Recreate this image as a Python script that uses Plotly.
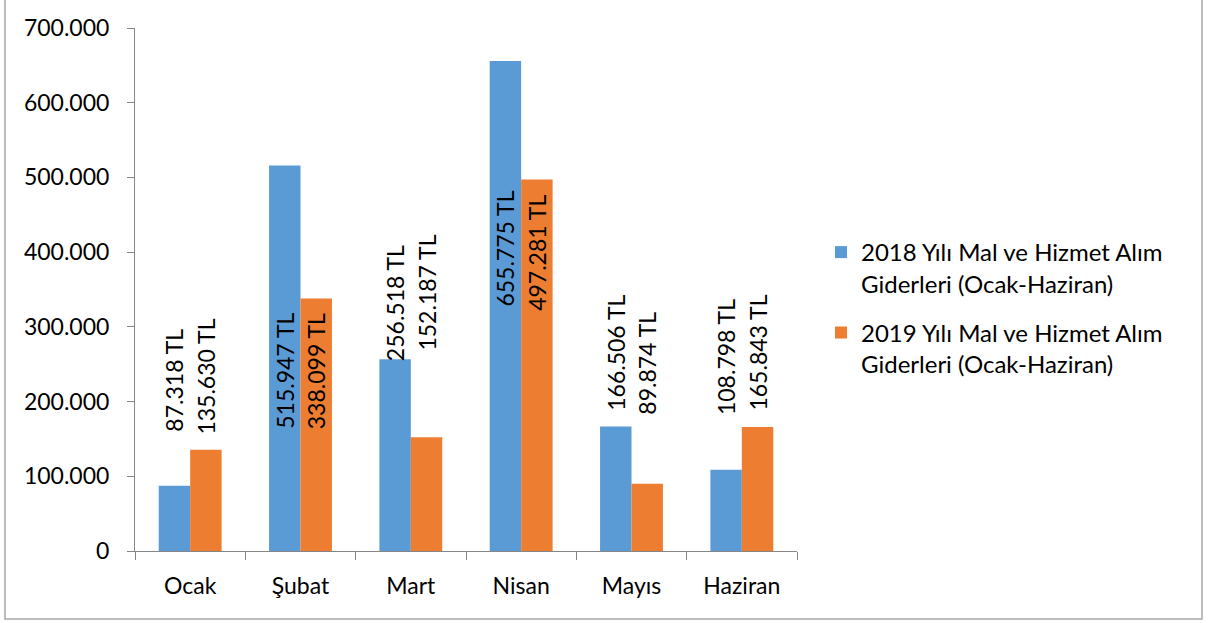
import plotly.graph_objects as go

months = ["Ocak", "Şubat", "Mart", "Nisan", "Mayıs", "Haziran"]
series_names = [
    "2018 Yılı Mal ve Hizmet Alım<br>Giderleri (Ocak-Haziran)",
    "2019 Yılı Mal ve Hizmet Alım<br>Giderleri (Ocak-Haziran)",
]
values_2018 = [87318, 515947, 256518, 655775, 166506, 108798]
values_2019 = [135630, 338099, 152187, 497281, 89874, 165843]
# where each data label starts (bottom of rotated text), in data units
label_base_2018 = [157000, 160600, 251600, 325000, 184700, 179400]
label_base_2019 = [153000, 160600, 265000, 318600, 179400, 184700]
y_ticks = [0, 100000, 200000, 300000, 400000, 500000, 600000, 700000]

colors = ["#5B9BD5", "#ED7D31"]
FONT = "Lato"
BARGAP = 0.43

# plot area in pixels
W, H = 1220, 623
L, R, T, B = 135, 797, 28, 551


def fmt(v):
    return f"{v:,}".replace(",", ".") + " TL"


fig = go.Figure()
for k, (name, vals, col) in enumerate(zip(series_names, [values_2018, values_2019], colors)):
    fig.add_trace(go.Bar(
        x=months, y=vals, name=name, legendgroup=f"g{k}",
        marker=dict(color=col, line=dict(width=0)),
    ))

off = (1 - BARGAP) / 4
for vals, bases, sign in [(values_2018, label_base_2018, -1), (values_2019, label_base_2019, 1)]:
    for i, (v, b) in enumerate(zip(vals, bases)):
        fig.add_annotation(
            x=i + sign * off, y=b, xref="x", yref="y",
            text=fmt(v), showarrow=False, textangle=-90,
            xanchor="center", yanchor="bottom",
            font=dict(family=FONT, size=23, color="#000000"),
        )

pw = R - L
ph = B - T
fig.add_shape(
    type="rect", xref="paper", yref="paper",
    x0=(5 - L) / pw, x1=(1202 - L) / pw,
    y0=(B - 619) / ph, y1=(B - (-2)) / ph,
    line=dict(color="#A6A6A6", width=1.5), fillcolor="rgba(0,0,0,0)", layer="below",
)

fig.update_layout(
    width=W, height=H,
    margin=dict(l=L, r=W - R, t=T, b=H - B),
    paper_bgcolor="white", plot_bgcolor="white",
    barmode="group", bargap=BARGAP, bargroupgap=0,
    separators=",.",
    font=dict(family=FONT, size=23, color="#000000"),
    showlegend=True,
    legend=dict(
        x=(821 - L) / pw, y=(B - 230) / ph, xanchor="left", yanchor="top",
        font=dict(family=FONT, size=24, color="#000000"),
        valign="top", tracegroupgap=15, itemwidth=30,
        bgcolor="rgba(0,0,0,0)",
    ),
    xaxis=dict(
        showline=True, linecolor="#868686", linewidth=1,
        ticks="outside", tickson="boundaries", ticklen=8, tickcolor="#868686",
        showgrid=False, zeroline=False,
        ticklabelstandoff=14,
        tickfont=dict(family=FONT, size=23),
    ),
    yaxis=dict(
        range=[0, 700000], tickvals=y_ticks, tickformat=",d",
        showline=True, linecolor="#868686", linewidth=1,
        ticks="outside", ticklen=7, tickcolor="#868686",
        showgrid=False, zeroline=False,
        ticklabelstandoff=13,
        tickfont=dict(family=FONT, size=23),
    ),
)

fig.write_html(
    "out.html",
    config={"displayModeBar": False},
    post_script="document.body.style.margin='0px';",
)
